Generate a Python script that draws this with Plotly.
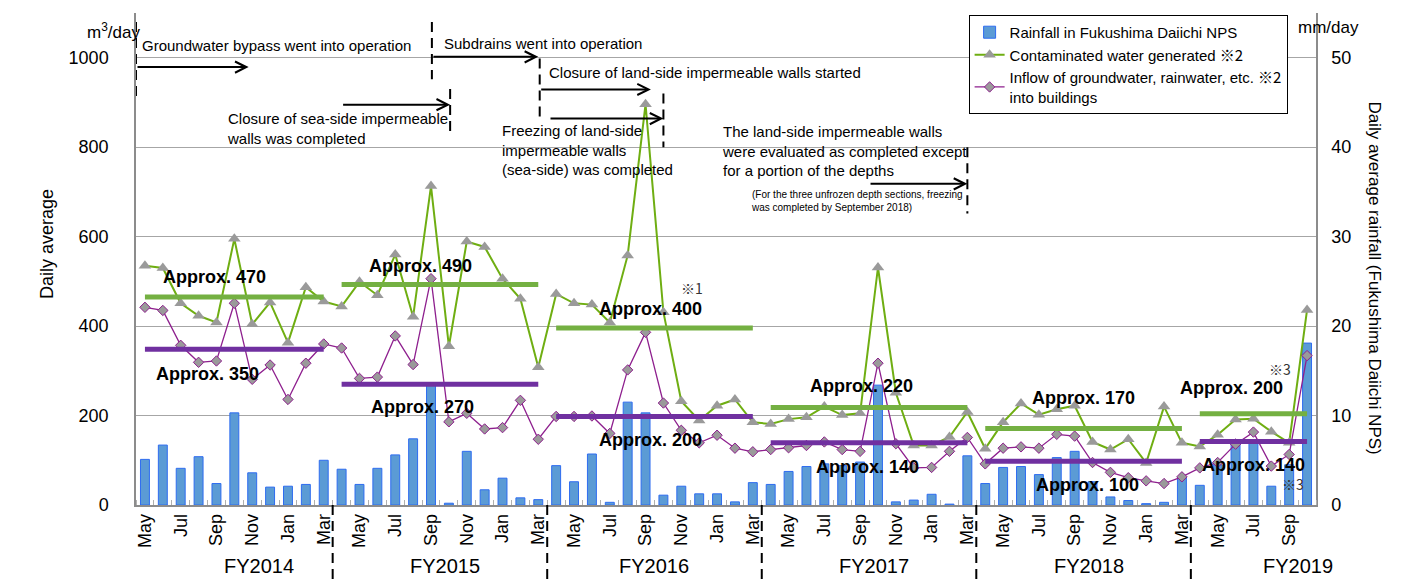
import plotly.graph_objects as go

# ---------------- data ----------------
month_labels = (["May", "Jun", "Jul", "Aug", "Sep", "Oct", "Nov", "Dec", "Jan", "Feb", "Mar"]
                + ["Apr", "May", "Jun", "Jul", "Aug", "Sep", "Oct", "Nov", "Dec", "Jan", "Feb", "Mar"] * 4
                + ["Apr", "May", "Jun", "Jul", "Aug", "Sep", "Oct"])
shown_months = ["May", "Jul", "Sep", "Nov", "Jan", "Mar"]

# mm/day (right axis)
rainfall = [5.1, 6.7, 4.1, 5.4, 2.4, 10.3, 3.6, 2.0, 2.1, 2.3, 5.0,
            4.0, 2.3, 4.1, 5.6, 7.4, 13.4, 0.2, 6.0, 1.7, 3.0, 0.8, 0.6,
            4.4, 2.6, 5.7, 0.3, 11.5, 10.3, 1.1, 2.1, 1.25, 1.25, 0.35, 2.5,
            2.3, 3.75, 4.3, 4.6, 4.4, 4.8, 13.4, 0.35, 0.55, 1.2, 0.1, 5.5,
            2.4, 4.2, 4.3, 3.4, 5.3, 6.0, 2.6, 0.9, 0.5, 0.15, 0.3, 3.1,
            2.2, 4.5, 6.8, 7.0, 2.1, 4.5, 18.1]

# m3/day (left axis)
contaminated = [535, 530, 451, 423, 408, 595, 404, 453, 363, 487, 455,
                444, 499, 469, 560, 421, 713, 355, 589, 577, 506, 461, 308,
                472, 451, 448, 408, 558, 896, 431, 232, 189, 222, 236, 185,
                181, 192, 196, 220, 201, 205, 531, 251, 133, 133, 152, 208,
                126, 185, 227, 202, 214, 222, 141, 124, 147, 94, 220, 139,
                131, 157, 191, 193, 164, 139, 436]

inflow = [442, 435, 357, 319, 322, 451, 281, 313, 236, 317, 360,
          351, 283, 286, 378, 314, 506, 186, 205, 170, 173, 234, 147,
          198, 198, 199, 160, 302, 386, 228, 167, 139, 156, 127, 119,
          124, 128, 133, 141, 124, 120, 317, 137, 83, 84, 120, 151,
          92, 127, 130, 127, 158, 154, 95, 73, 61, 54, 48, 63,
          83, 95, 136, 163, 87, 113, 334]

fiscal_years = ["FY2014", "FY2015", "FY2016", "FY2017", "FY2018", "FY2019"]
fy_first = [0, 11, 23, 35, 47, 59]
fy_last = [10, 22, 34, 46, 58, 65]
avg_contaminated = [465, 493, 396, 218, 171, 204]
avg_inflow = [348, 270, 198, 139, 98, 142]
avg_contaminated_text = ["Approx. 470", "Approx. 490", "Approx. 400", "Approx. 220", "Approx. 170", "Approx. 200"]
avg_inflow_text = ["Approx. 350", "Approx. 270", "Approx. 200", "Approx. 140", "Approx. 100", "Approx. 140"]

# ---------------- layout helpers ----------------
FONT = "Liberation Sans, Arial, sans-serif"
CJK = "Noto Sans CJK JP, Liberation Serif, serif"
GREEN = "#6fae12"
PURPLE = "#8e1f8e"
AVG_GREEN = "#74b042"
AVG_PURPLE = "#7030a0"
GRID = "#a6a6a6"
AXIS = "#8c8c8c"

x_idx = list(range(len(month_labels)))
tickvals = [i for i, m in enumerate(month_labels) if m in shown_months]
ticktext = [month_labels[i] for i in tickvals]

fig = go.Figure()

fig.add_trace(go.Bar(
    x=x_idx, y=rainfall, name="Rainfall in Fukushima Daiichi NPS",
    marker=dict(color="#5b9bd5", line=dict(color="#2e6cf0", width=1)),
    width=0.5, yaxis="y"))

fig.add_trace(go.Scatter(
    x=x_idx, y=contaminated, name="Contaminated water generated <span style='font-family:Noto Sans CJK JP'>※2</span>",
    mode="lines+markers", line=dict(color=GREEN, width=2),
    marker=dict(symbol="triangle-up", size=11, color="#9a9a9a", line=dict(width=0)),
    yaxis="y2"))

fig.add_trace(go.Scatter(
    x=x_idx, y=inflow,
    name="Inflow of groundwater, rainwater, etc. <span style='font-family:Noto Sans CJK JP'>※2</span><br>into buildings",
    mode="lines+markers", line=dict(color=PURPLE, width=1.3),
    marker=dict(symbol="diamond", size=8, color="#9a9a9a", line=dict(color=PURPLE, width=1)),
    yaxis="y2"))

for a, b, vc, vi in zip(fy_first, fy_last, avg_contaminated, avg_inflow):
    fig.add_trace(go.Scatter(x=[a, b], y=[vc, vc], mode="lines", yaxis="y2",
                             line=dict(color=AVG_GREEN, width=5), showlegend=False, hoverinfo="skip"))
    fig.add_trace(go.Scatter(x=[a, b], y=[vi, vi], mode="lines", yaxis="y2",
                             line=dict(color=AVG_PURPLE, width=5), showlegend=False, hoverinfo="skip"))

annotations = []
shapes = []

# Approx labels
contam_label_pos = [(3.9, 509), (15.4, 535), (28.3, 439), (40.1, 266), (52.5, 239), (60.8, 261)]
inflow_label_pos = [(3.5, 294), (15.5, 220), (28.3, 145), (40.4, 86), (52.7, 45), (62.0, 90)]
for (px, py), t in zip(contam_label_pos, avg_contaminated_text):
    annotations.append(dict(x=px, y=py, xref="x", yref="y2", text="<b>" + t + "</b>", showarrow=False,
                            font=dict(family=FONT, size=18, color="black")))
for (px, py), t in zip(inflow_label_pos, avg_inflow_text):
    annotations.append(dict(x=px, y=py, xref="x", yref="y2", text="<b>" + t + "</b>", showarrow=False,
                            font=dict(family=FONT, size=18, color="black")))

# note marks
for px, py, t in [(30.6, 486, "※1"), (63.5, 303, "※3"), (64.2, 48, "※3")]:
    annotations.append(dict(x=px, y=py, xref="x", yref="y2", text=t, showarrow=False,
                            font=dict(family=CJK, size=14, color="#333")))

# Events: text, text anchor, arrow tail->head, dashed line
events = [
    dict(text="Groundwater bypass went into operation", tx=-0.25, ty=1027,
         arrow=(-0.5, 5.8, 979), line=(-0.5, 1080, 902)),
    dict(text="Subdrains went into operation", tx=16.6, ty=1032,
         arrow=(16.05, 22.0, 1002), line=(16.05, 1080, 952)),
    dict(text="Closure of land-side impermeable walls started", tx=22.5, ty=966,
         arrow=(22.08, 28.3, 929), line=(22.08, 998, 861)),
    dict(text="Closure of sea-side impermeable<br>walls was completed", tx=4.45, ty=841,
         arrow=(11.0, 17.07, 895), line=(17.07, 930, 823)),
    dict(text="Freezing of land-side<br>impermeable walls<br>(sea-side) was completed", tx=19.85, ty=794,
         arrow=(22.6, 29.0, 864), line=(29.0, 920, 800)),
    dict(text="The land-side impermeable walls<br>were evaluated as completed except<br>for a portion of the depths",
         tx=32.15, ty=791, arrow=(40.5, 46.0, 718), line=(46.0, 800, 652)),
]
for e in events:
    annotations.append(dict(x=e["tx"], y=e["ty"], xref="x", yref="y2", text=e["text"], showarrow=False,
                            xanchor="left", align="left",
                            font=dict(family=FONT, size=15, color="black")))
    x0, x1, ya = e["arrow"]
    annotations.append(dict(x=x1, y=ya, ax=x0, ay=ya, xref="x", yref="y2", axref="x", ayref="y2",
                            text="", showarrow=True, arrowhead=5, arrowsize=1.1, arrowwidth=2,
                            arrowcolor="black", standoff=0, startstandoff=0))
    lx, ly0, ly1 = e["line"]
    shapes.append(dict(type="line", xref="x", yref="y2", x0=lx, x1=lx, y0=ly0, y1=ly1,
                       line=dict(color="black", width=2, dash="10px,6px")))

annotations.append(dict(x=33.8, y=680, xref="x", yref="y2", xanchor="left", align="left", showarrow=False,
                        text="(For the three unfrozen depth sections, freezing<br>was completed by September 2018)",
                        font=dict(family=FONT, size=10, color="black")))

# FY labels and separators
fy_label_x = [6.4, 16.8, 28.5, 40.8, 52.8, 64.5]
for fx, t in zip(fy_label_x, fiscal_years):
    annotations.append(dict(x=fx, y=-0.151, xref="x", yref="paper", text=t, showarrow=False,
                            font=dict(family=FONT, size=20, color="black")))
for b in fy_last[:-1]:
    shapes.append(dict(type="line", xref="x", yref="paper", x0=b + 0.5, x1=b + 0.5, y0=0, y1=-0.17,
                       line=dict(color="black", width=2, dash="10px,6px")))

# units and axis titles
annotations += [
    dict(x=-0.043, y=0.99, xref="paper", yref="paper", text="m<sup>3</sup>/day", showarrow=False,
         font=dict(family=FONT, size=17, color="black")),
    dict(x=1.0384, y=0.994, xref="paper", yref="paper", text="mm/day", showarrow=False,
         font=dict(family=FONT, size=17, color="black")),
    dict(x=-0.0862, y=0.531, xref="paper", yref="paper", text="Daily average", showarrow=False,
         textangle=-90, font=dict(family=FONT, size=18, color="black")),
    dict(x=1.0597, y=0.4607, xref="paper", yref="paper",
         text="Daily average rainfall (Fukushima Daiichi NPS)", showarrow=False,
         textangle=90, font=dict(family=FONT, size=17, color="black")),
]

# the page body adds an 8px offset, so the figure is 8px smaller on each trailing side
fig.update_layout(
    width=1406, height=574,
    margin=dict(l=128, r=98, t=5, b=77, autoexpand=False),
    paper_bgcolor="white", plot_bgcolor="white",
    font=dict(family=FONT, size=18, color="black"),
    bargap=0.5,
    xaxis=dict(range=[-0.5, 65.5], tickmode="array", tickvals=tickvals, ticktext=ticktext,
               tickangle=-90, ticks="", showline=True, linecolor=AXIS, linewidth=1.5,
               showgrid=False, zeroline=False, tickfont=dict(size=18), automargin=False,
               minor=dict(tickmode="linear", tick0=0.5, dtick=1, ticks="inside", ticklen=5,
                          tickcolor="#b0b0b0", showgrid=False)),
    yaxis=dict(range=[0, 55], tickmode="array", tickvals=[0, 10, 20, 30, 40, 50], side="right",
               showline=True, linecolor=AXIS, linewidth=1.5, showgrid=False, zeroline=False,
               ticks="", ticklabelstandoff=10, tickfont=dict(size=18), automargin=False),
    yaxis2=dict(range=[0, 1100], tickmode="array", tickvals=[0, 200, 400, 600, 800, 1000],
                overlaying="y", side="left", showline=True, linecolor=AXIS, linewidth=1.5,
                showgrid=True, gridcolor=GRID, gridwidth=1, zeroline=False, ticks="",
                ticklabelstandoff=22, tickfont=dict(size=18), automargin=False),
    legend=dict(x=0.7056, y=0.996, xanchor="left", yanchor="top", bgcolor="white",
                bordercolor="black", borderwidth=1, font=dict(family=FONT, size=15),
                tracegroupgap=0, itemwidth=30),
    annotations=annotations,
    shapes=shapes,
    showlegend=True,
)

fig.write_html("out.html")
